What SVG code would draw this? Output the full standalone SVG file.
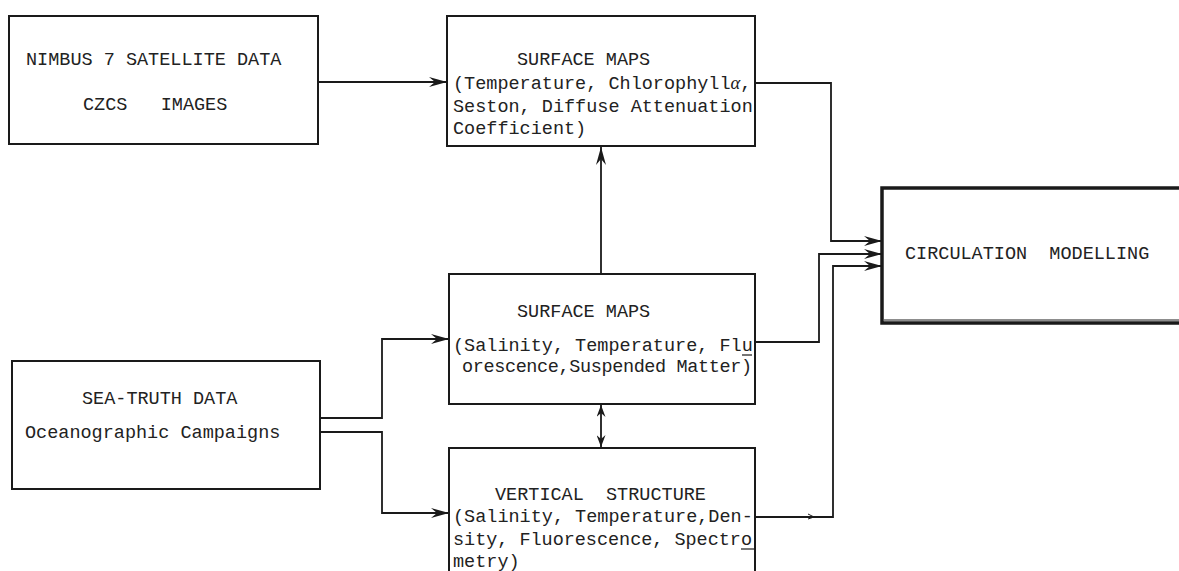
<svg xmlns="http://www.w3.org/2000/svg" width="1179" height="571" viewBox="0 0 1179 571">
<style>
  .box{fill:none;stroke:#1a1a1a;stroke-width:2}
  .thick{fill:none;stroke:#1a1a1a;stroke-width:3.5}
  .t{font-family:"Liberation Mono","DejaVu Sans Mono",monospace;font-size:18.5px;fill:#222;white-space:pre}
  .c{fill:none;stroke:#1a1a1a;stroke-width:1.8}
  .a{marker-end:url(#ah)}
  .mk{fill:none;stroke:#1a1a1a;stroke-width:1.2}
</style>
<defs>
  <marker id="ah" viewBox="0 0 18 10" refX="18" refY="5" markerWidth="18" markerHeight="10" orient="auto-start-reverse" markerUnits="userSpaceOnUse">
    <path d="M0,0 L18,5 L0,10 L6,5 z" fill="#1a1a1a"/>
  </marker>
  <marker id="sh" viewBox="0 0 12 9" refX="12" refY="4.5" markerWidth="12" markerHeight="9" orient="auto-start-reverse" markerUnits="userSpaceOnUse">
    <path d="M0,0 L12,4.5 L0,9 L4,4.5 z" fill="#1a1a1a"/>
  </marker>
</defs>

<g id="nimbus">
  <rect class="box" x="9" y="16" width="309" height="128"/>
  <text class="t" x="26" y="65">NIMBUS 7 SATELLITE DATA</text>
  <text class="t" x="83" y="110" xml:space="preserve">CZCS   IMAGES</text>
</g>

<g id="surface-top">
  <rect class="box" x="447" y="16" width="308" height="130"/>
  <text class="t" x="517" y="65">SURFACE MAPS</text>
  <text class="t" x="453" y="89">(Temperature, Chlorophyll<tspan font-style="italic" font-family="Liberation Serif, serif">α</tspan>,</text>
  <text class="t" x="453" y="112">Seston, Diffuse Attenuation</text>
  <text class="t" x="453" y="134">Coefficient)</text>
</g>

<g id="circulation">
  <path class="thick" d="M1179,188 H882 V323 H1179"/>
  <path d="M884,320 H1179" stroke="#1a1a1a" stroke-width="1" fill="none"/>
  <text class="t" x="905" y="259" xml:space="preserve">CIRCULATION  MODELLING</text>
</g>

<g id="surface-mid">
  <rect class="box" x="449" y="274" width="306" height="130"/>
  <text class="t" x="517" y="317">SURFACE MAPS</text>
  <text class="t" x="453" y="351">(Salinity, Temperature, Flu</text>
  <text class="t" x="462" y="372" textLength="290" lengthAdjust="spacing">orescence,Suspended Matter)</text>
  <path class="mk" d="M742,355 H752"/>
</g>

<g id="vertical">
  <path class="box" d="M449,571 V448 H755 V571"/>
  <text class="t" x="495" y="500" xml:space="preserve">VERTICAL  STRUCTURE</text>
  <text class="t" x="453" y="522">(Salinity, Temperature,Den-</text>
  <text class="t" x="453" y="545" textLength="299" lengthAdjust="spacing">sity, Fluorescence, Spectro</text>
  <text class="t" x="453" y="567">metry)</text>
  <path class="mk" d="M741,549 H755"/>
</g>

<g id="seatruth">
  <rect class="box" x="12" y="361" width="308" height="128"/>
  <text class="t" x="82" y="404">SEA-TRUTH DATA</text>
  <text class="t" x="25" y="438">Oceanographic Campaigns</text>
</g>

<g id="connectors">
  <path class="c a" d="M318,82 H447"/>
  <path class="c a" d="M755,83 H831 V241 H882"/>
  <path class="c a" d="M755,342 H819 V254 H882"/>
  <path class="c a" d="M755,517 H833 V266 H882"/>
  <path d="M808,514 L814,517 L808,519" stroke="#1a1a1a" stroke-width="1" fill="none"/>
  <path class="c a" d="M601,274 V147"/>
  <path class="c" d="M601,405 V447" marker-start="url(#sh)" marker-end="url(#sh)"/>
  <path class="c a" d="M320,418 H382 V339 H449"/>
  <path class="c a" d="M320,432 H382 V513 H449"/>
</g>
</svg>
